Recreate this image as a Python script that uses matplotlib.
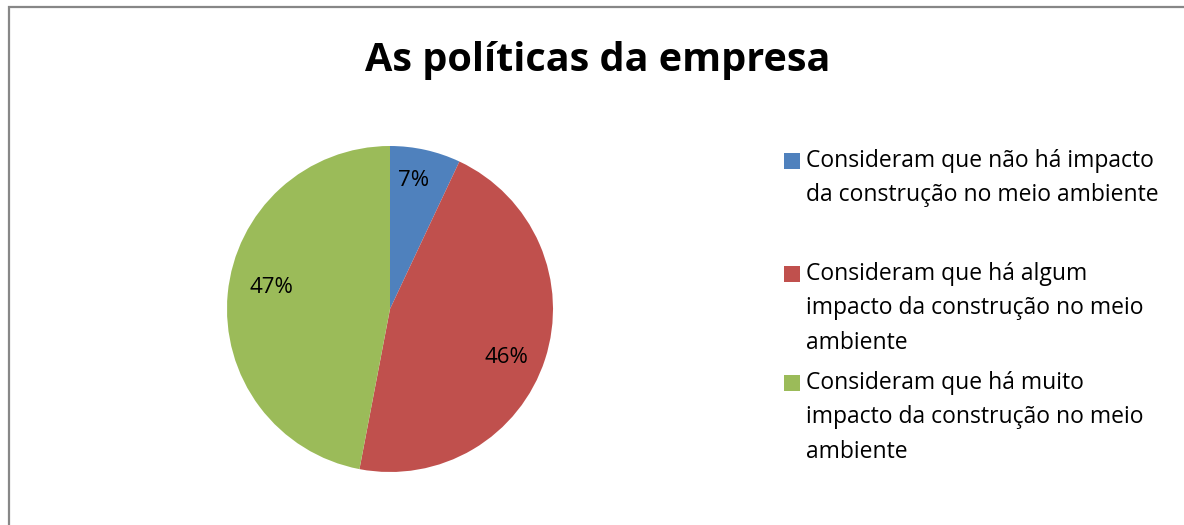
import matplotlib.pyplot as plt
from matplotlib.patches import Rectangle

title = "As políticas da empresa"
labels = ["Consideram que não há impacto\nda construção no meio ambiente",
          "Consideram que há algum\nimpacto da construção no meio\nambiente",
          "Consideram que há muito\nimpacto da construção no meio\nambiente"]
values = [7, 46, 47]
colors = ["#4F81BD", "#C0504D", "#9BBB59"]

plt.rcParams['font.family'] = ['Open Sans', 'DejaVu Sans']

W, H = 1184, 525
fig = plt.figure(figsize=(W / 100, H / 100), dpi=100)

# chart frame (runs off the right and bottom edges)
fig.patches.append(Rectangle((9 / W, -0.05), 1.1, 1 - 7 / H + 0.05,
                             transform=fig.transFigure, fill=False,
                             edgecolor="#878787", linewidth=1.6))

cx, cy, r = 390, 309, 163
ax = fig.add_axes([(cx - r) / W, (H - cy - r) / H, 2 * r / W, 2 * r / H])
wedges, texts, autotexts = ax.pie(values, colors=colors, startangle=90, counterclock=False,
                                  autopct='%1.0f%%', pctdistance=0.77, radius=1,
                                  textprops={'fontsize': 16, 'color': 'black'})
# nudge labels to where Excel put them (pixels)
nudge = [(-4, 6), (-3, -10), (6, 10)]
for t, (dx, dy) in zip(autotexts, nudge):
    x, y = t.get_position()
    t.set_position((x + dx / r, y + dy / r))
ax.set_xlim(-1, 1)
ax.set_ylim(-1, 1)
ax.axis('off')

fig.text(598 / W, 1 - 60 / H, title, ha='center', va='center',
         fontsize=28.5, fontweight='bold')

# legend
ys = [161, 274, 383]
for lab, col, y in zip(labels, colors, ys):
    fig.patches.append(Rectangle((784 / W, 1 - (y + 8) / H), 16 / W, 16 / H,
                                 transform=fig.transFigure, facecolor=col, edgecolor='none'))
    fig.text(806 / W, 1 - (y - 12) / H, lab, ha='left', va='top',
             fontsize=16.5, linespacing=1.58)

fig.savefig("out.png", dpi=100)
